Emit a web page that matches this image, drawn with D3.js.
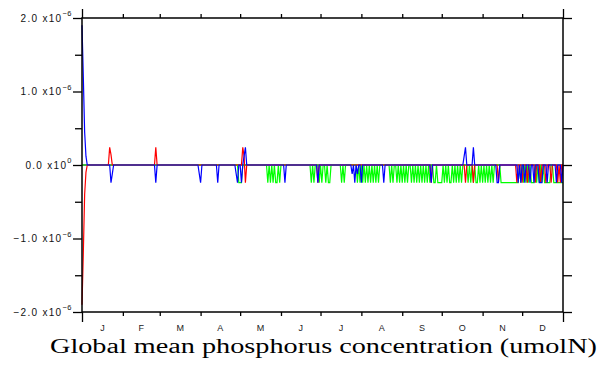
<!DOCTYPE html>
<html>
<head>
<meta charset="utf-8">
<script src="https://cdn.jsdelivr.net/npm/d3@7"></script>
<style>
  body { margin: 0; background: #fff; }
  svg { display: block; }
</style>
</head>
<body>
<div id="chart"></div>
<script>
// Month labels and the day each month starts on
const months = ["J", "F", "M", "A", "M", "J", "J", "A", "S", "O", "N", "D"];
const month_starts = [0, 31, 59, 90, 120, 151, 181, 212, 243, 273, 304, 334, 365];

// Y ticks, labels as mantissa + exponent
const y_ticks = [-2e-6, -1e-6, 0, 1e-6, 2e-6];
const y_minor = [-1.5e-6, -0.5e-6, 0.5e-6, 1.5e-6];
const y_mant = ["\u22122.0 x10", "\u22121.0 x10", "0.0 x10", "1.0 x10", "2.0 x10"];
const y_exp = ["\u22126", "\u22126", "0", "\u22126", "\u22126"];

// Non-zero days of each series: [day, value]
const red_events = [
    [0, -1.9e-6], [1, -1.2e-6], [2, -0.4e-6], [3, -0.1e-6],
    [21, 2.4e-7], [22, 1.4e-7],
    [56, 2.4e-7],
    [122, 2.4e-7], [123, 1.2e-7], [124, -2.4e-7],
    [179, -2.4e-7],
    [265, -2.4e-7],
    [291, -2.4e-7], [297, -2.4e-7],
    [316, -2.4e-7],
    [330, -2.4e-7], [334, -2.4e-7], [338, -2.4e-7], [344, -2.4e-7],
    [348, -2.4e-7], [352, -2.4e-7], [356, -2.4e-7], [361, -2.4e-7], [363, -2.4e-7]
];
const blue_events = [
    [0, 1.9e-6], [1, 1.2e-6], [2, 0.45e-6], [3, 0.12e-6],
    [22, -2.4e-7], [23, -1.2e-7],
    [56, -2.4e-7],
    [89, -1.2e-7], [90, -2.4e-7],
    [103, -2.4e-7],
    [117, -1.2e-7], [118, -2.4e-7],
    [121, -2.4e-7], [123, 1.2e-7], [124, 2.4e-7],
    [154, -2.4e-7],
    [179, -2.4e-7],
    [205, -1.2e-7], [207, -2.4e-7], [209, -1.2e-7], [212, -2.4e-7],
    [229, -2.4e-7],
    [265, -2.4e-7],
    [290, 1.2e-7], [291, 2.4e-7],
    [297, 2.4e-7],
    [315, -2.4e-7], [316, -2.4e-7],
    [331, -2.4e-7], [333, -2.4e-7], [336, -2.4e-7], [340, -2.4e-7], [343, -2.4e-7],
    [347, -2.4e-7], [348, -2.4e-7], [349, -2.4e-7], [353, -2.4e-7], [360, -2.4e-7], [364, -2.4e-7]
];
// Green only flips between 0 and this low level
const green_low_value = -2.4e-7;
const green_low_days = [
    119, 120, 121,
    141, 143, 145, 147, 148, 150,
    174, 176, 180, 182, 185, 187, 188,
    197, 199,
    209, 211, 213, 215, 217, 219, 221, 223, 225,
    234, 236, 239, 241, 243, 245, 247, 250, 252, 254, 256, 258, 260, 262, 264,
    267, 268, 270, 271, 272, 273, 275, 277, 279, 280, 282, 284, 286, 288,
    293, 295, 297, 299, 300, 302, 304, 306, 308, 310, 312,
    318, 319, 320, 321, 322, 323, 324, 325, 326, 327, 328, 329, 330,
    331, 333, 335, 337, 339, 341, 342, 343, 345, 347, 349, 351, 352, 353, 354, 355,
    358, 359, 360, 361, 362, 363, 364, 365
];

let margin = { top: 18, right: 44, bottom: 53, left: 82 },
    svg_width = 607, svg_height = 365,
    width = svg_width - margin.left - margin.right,
    height = svg_height - margin.top - margin.bottom;

let days = d3.range(0, 366);

function build_series(events) {
    let lookup = new Map(events);
    return days.map(d => ({ day: d, v: lookup.has(d) ? lookup.get(d) : 0 }));
}
let red = build_series(red_events);
let blue = build_series(blue_events);
let green = build_series(green_low_days.map(d => [d, green_low_value]));

var svg = d3.select("#chart")
    .append("svg")
        .attr("width", svg_width)
        .attr("height", svg_height)
    .append("g")
        .attr("transform", "translate(" + margin.left + "," + margin.top + ")");

var x_scale = d3.scaleLinear().domain([0, 365]).range([0, width]);
var y_scale = d3.scaleLinear().domain([-2e-6, 2e-6]).range([height, 0]);

// Zero line
svg.append("line")
    .attr("x1", 0).attr("x2", width)
    .attr("y1", y_scale(0)).attr("y2", y_scale(0))
    .attr("stroke", "#000")
    .attr("stroke-width", 1.2);

// Data lines
var line = d3.line()
    .x(d => x_scale(d.day))
    .y(d => y_scale(d.v));
[[green, "#00ff00"], [red, "#ff0000"], [blue, "#0000ff"]].forEach(function(s) {
    svg.append("path")
        .datum(s[0])
        .attr("fill", "none")
        .attr("stroke", s[1])
        .attr("stroke-width", 1.2)
        .attr("d", line);
});

// Frame
svg.append("rect")
    .attr("width", width)
    .attr("height", height)
    .attr("fill", "none")
    .attr("stroke", "#000")
    .attr("stroke-width", 1.5);

// Y ticks, outward on both sides
let y_major_axis_l = d3.axisLeft(y_scale).tickValues(y_ticks).tickSize(9).tickFormat("");
let y_minor_axis_l = d3.axisLeft(y_scale).tickValues(y_minor).tickSize(7).tickFormat("");
let y_major_axis_r = d3.axisRight(y_scale).tickValues(y_ticks).tickSize(9).tickFormat("");
let y_minor_axis_r = d3.axisRight(y_scale).tickValues(y_minor).tickSize(9).tickFormat("");
svg.append("g").call(y_major_axis_l);
svg.append("g").call(y_minor_axis_l);
svg.append("g").attr("transform", "translate(" + width + ",0)").call(y_major_axis_r);
svg.append("g").attr("transform", "translate(" + width + ",0)").call(y_minor_axis_r);

// X ticks at month boundaries, long ones at the year ends
let inner_starts = month_starts.slice(1, -1);
let ends = [0, 365];
svg.append("g").call(d3.axisTop(x_scale).tickValues(inner_starts).tickSize(4).tickFormat(""));
svg.append("g").call(d3.axisTop(x_scale).tickValues(ends).tickSize(9).tickFormat(""));
svg.append("g").attr("transform", "translate(0," + height + ")")
    .call(d3.axisBottom(x_scale).tickValues(inner_starts).tickSize(4).tickFormat(""));
svg.append("g").attr("transform", "translate(0," + height + ")")
    .call(d3.axisBottom(x_scale).tickValues(ends).tickSize(10).tickFormat(""));
svg.selectAll(".domain").remove();
svg.selectAll(".tick line").attr("stroke", "#000").attr("stroke-width", 1.3);

// Month labels
svg.selectAll(".month")
    .data(months)
    .enter()
    .append("text")
        .attr("class", "month")
        .attr("x", (d, i) => x_scale((month_starts[i] + month_starts[i + 1]) / 2))
        .attr("y", height + 19)
        .attr("text-anchor", "middle")
        .style("font-family", "'Liberation Sans', Arial, sans-serif")
        .style("font-size", "9px")
        .attr("fill", "#222")
        .text(d => d);

// Y labels
let y_labels = svg.selectAll(".ylab")
    .data(y_ticks)
    .enter()
    .append("text")
        .attr("class", "ylab")
        .attr("x", -10)
        .attr("y", d => y_scale(d) + 3.5)
        .attr("text-anchor", "end")
        .style("font-family", "'Liberation Sans', Arial, sans-serif")
        .style("font-size", "10px")
        .style("letter-spacing", "1.3px")
        .attr("fill", "#111");
y_labels.append("tspan").text((d, i) => y_mant[i]);
y_labels.append("tspan")
    .attr("dy", -5.5)
    .style("font-size", "7.5px")
    .style("letter-spacing", "0.5px")
    .text((d, i) => y_exp[i]);

// Title
svg.append("text")
    .attr("x", width / 2 + 1)
    .attr("y", height + 41)
    .attr("text-anchor", "middle")
    .style("font-family", "'Liberation Serif', 'Times New Roman', serif")
    .style("font-size", "20.5px")
    .attr("textLength", 547)
    .attr("lengthAdjust", "spacingAndGlyphs")
    .text("Global mean phosphorus concentration (umolN)");
</script>
</body>
</html>
